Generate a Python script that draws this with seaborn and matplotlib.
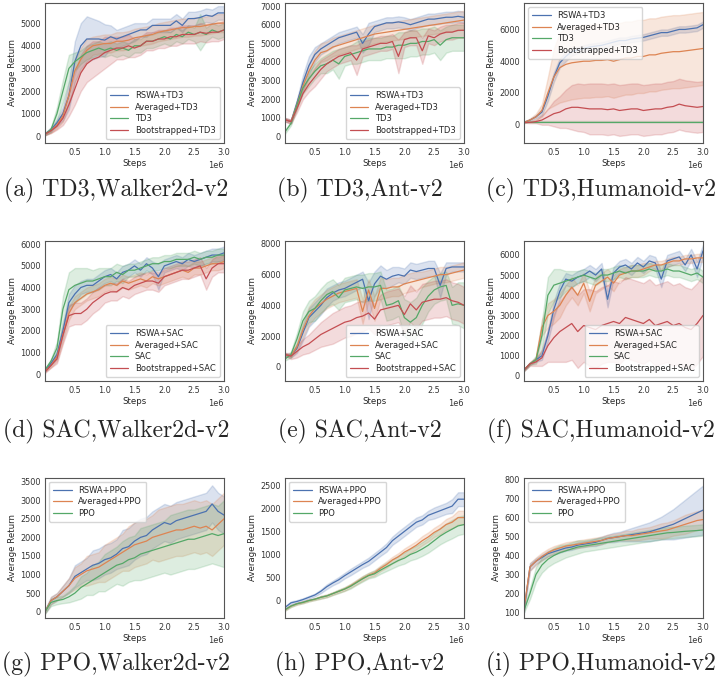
import numpy as np
import pandas as pd
import matplotlib
matplotlib.use("Agg")
import matplotlib.pyplot as plt
import seaborn as sns

# --- x grid (in millions of steps) ---
STEPS = [0.0, 0.1, 0.2, 0.3, 0.4, 0.5, 0.6, 0.7, 0.8, 0.9, 1.0,
         1.1, 1.2, 1.3, 1.4, 1.5, 1.6, 1.7, 1.8, 1.9, 2.0,
         2.1, 2.2, 2.3, 2.4, 2.5, 2.6, 2.7, 2.8, 2.9, 3.0]

# --- (a) TD3, Walker2d ---
a_rswa = [100, 300, 600, 1000, 1800, 3300, 4000, 4300, 4300, 4300, 4250, 4400, 4300, 4400, 4500, 4600,
          4700, 4700, 4900, 4900, 4900, 4900, 5100, 4900, 5200, 5200, 5250, 5350, 5300, 5450, 5450]
a_rswa_w = [50, 100, 150, 300, 600, 900, 1000, 1000, 900, 800, 700, 500, 400, 400, 400, 400,
            300, 300, 300, 300, 300, 300, 300, 300, 300, 300, 300, 300, 300, 300, 300]
a_avg = [100, 250, 500, 900, 1800, 2900, 3400, 3800, 4000, 4050, 4100, 4100, 4200, 4200, 4250, 4350,
         4400, 4450, 4500, 4600, 4650, 4700, 4750, 4800, 4800, 4850, 4850, 4900, 4950, 5000, 5000]
a_avg_w = [50, 100, 150, 250, 400, 500, 500, 500, 400, 400, 400, 400, 400, 400, 400, 400,
           400, 400, 400, 400, 400, 400, 400, 400, 400, 400, 400, 400, 400, 400, 400]
a_td3 = [100, 300, 1000, 2000, 3000, 3300, 3500, 3700, 3800, 3900, 3800, 3900, 3800, 3900, 3800, 4000,
         4000, 4200, 4200, 4300, 4400, 4300, 4500, 4400, 4600, 4500, 4600, 4500, 4700, 4600, 4700]
a_td3_w = [50, 100, 300, 500, 600, 400, 300, 300, 300, 300, 300, 300, 300, 300, 300, 300,
           300, 300, 300, 300, 300, 300, 300, 300, 300, 300, 800, 300, 300, 300, 300]
a_boot = [100, 250, 450, 800, 1400, 2100, 2800, 3200, 3400, 3500, 3700, 3800, 3900, 3900, 4000, 3900,
          4000, 4200, 4200, 4300, 4300, 4400, 4400, 4500, 4500, 4500, 4600, 4550, 4600, 4600, 4700]
a_boot_w = [50, 100, 150, 300, 500, 700, 800, 800, 800, 700, 700, 600, 500, 500, 500, 400,
            400, 400, 400, 400, 400, 400, 400, 400, 400, 400, 400, 400, 400, 400, 400]

# --- (b) TD3, Ant ---
b_rswa = [900, 800, 1800, 2900, 3800, 4400, 4700, 4900, 5100, 5300, 5400, 5500, 5600, 5000, 5500, 5900,
          6000, 6100, 6100, 6150, 6100, 6000, 6100, 6200, 6300, 6300, 6350, 6400, 6400, 6450, 6400]
b_rswa_w = [100, 100, 200, 400, 500, 400, 300, 300, 300, 300, 300, 300, 300, 500, 600, 300,
            300, 300, 300, 300, 300, 300, 300, 300, 300, 300, 300, 300, 300, 300, 300]
b_avg = [900, 800, 1700, 2700, 3500, 4100, 4500, 4600, 4800, 4900, 5000, 5100, 5200, 5300, 5400, 5500,
         5550, 5600, 5650, 5700, 5750, 5800, 5850, 5900, 5950, 6000, 6050, 6100, 6150, 6200, 6250]
b_avg_w = [100, 100, 200, 300, 400, 500, 500, 500, 500, 500, 500, 500, 500, 500, 500, 500,
           500, 500, 500, 500, 500, 500, 500, 500, 500, 500, 500, 500, 500, 500, 500]
b_td3 = [250, 700, 1700, 2600, 3100, 3500, 3800, 3900, 4100, 3900, 4300, 4400, 4500, 4600, 4700, 4700,
         4700, 4800, 4800, 4900, 4900, 5000, 5000, 5100, 5100, 5200, 4900, 5200, 5300, 5300, 5300]
b_td3_w = [100, 100, 200, 300, 400, 400, 400, 500, 500, 800, 500, 500, 600, 600, 600, 600,
           600, 600, 600, 700, 700, 700, 700, 700, 700, 700, 800, 700, 700, 700, 700]
b_boot = [900, 800, 1500, 2300, 2800, 3200, 3600, 3900, 4100, 4300, 4400, 4500, 4100, 4700, 4800, 4900,
          5000, 5000, 5100, 4300, 5200, 5300, 5300, 4600, 5400, 5300, 5500, 5600, 5600, 5700, 5700]
b_boot_w = [100, 100, 200, 300, 400, 500, 500, 400, 400, 400, 400, 400, 800, 400, 400, 400,
            400, 400, 400, 900, 400, 400, 400, 700, 400, 400, 400, 400, 400, 400, 400]

# --- (c) TD3, Humanoid ---
c_rswa = [150, 300, 500, 800, 1800, 3000, 3900, 4300, 4600, 4700, 4800, 4900, 4950, 5000, 5100, 5200,
          5300, 5300, 5400, 5450, 5500, 5600, 5700, 5800, 5800, 5900, 6000, 6000, 6050, 6100, 6300]
c_rswa_w = [50, 50, 100, 200, 300, 300, 300, 300, 250, 200, 200, 200, 200, 200, 200, 200,
            200, 200, 200, 200, 200, 200, 200, 200, 200, 200, 200, 200, 200, 200, 200]
c_avg = [150, 300, 500, 900, 2000, 3000, 3600, 3800, 3900, 3950, 4000, 4000, 4050, 4050, 4100, 4000,
         4100, 4200, 4200, 4300, 4300, 4400, 4400, 4500, 4550, 4600, 4600, 4650, 4700, 4750, 4800]
c_avg_w = [50, 100, 200, 400, 1000, 1800, 2200, 2300, 2300, 2300, 2300, 2300, 2300, 2300, 2300, 2300,
           2300, 2300, 2300, 2300, 2300, 2300, 2300, 2300, 2300, 2300, 2300, 2300, 2300, 2300, 2300]
c_td3 = [200, 200, 200, 200, 200, 200, 200, 200, 200, 200, 200, 200, 200, 200, 200, 200,
         200, 200, 200, 200, 200, 200, 200, 200, 200, 200, 200, 200, 200, 200, 200]
c_td3_w = [20, 20, 20, 20, 20, 20, 20, 20, 20, 20, 20, 20, 20, 20, 20, 20,
           20, 20, 20, 20, 20, 20, 20, 20, 20, 20, 20, 20, 20, 20, 20]
c_boot = [150, 150, 200, 300, 500, 700, 800, 1000, 1100, 1100, 1050, 1000, 1000, 1000, 950, 1000,
          900, 950, 1000, 1000, 900, 950, 1000, 1000, 1100, 1150, 1300, 1200, 1150, 1100, 1150]
c_boot_w = [20, 50, 100, 300, 500, 800, 1000, 1200, 1400, 1500, 1500, 1600, 1600, 1600, 1600, 1600,
            1600, 1600, 1600, 1600, 1600, 1600, 1600, 1600, 1600, 1600, 1600, 1600, 1600, 1600, 1600]

# --- (d) SAC, Walker2d ---
d_rswa = [150, 500, 900, 2000, 3300, 3700, 4000, 4100, 4100, 4300, 4500, 4600, 4400, 4700, 4800, 5000,
          4800, 5100, 4900, 4500, 5000, 5100, 5200, 5100, 5300, 5200, 5300, 5400, 5500, 5500, 5600]
d_rswa_w = [50, 100, 200, 300, 400, 400, 300, 300, 300, 300, 300, 300, 300, 300, 300, 300,
            300, 300, 300, 600, 300, 300, 300, 300, 300, 300, 300, 300, 300, 300, 300]
d_avg = [150, 400, 800, 1800, 2800, 3300, 3500, 3700, 3800, 3900, 4100, 4200, 4100, 4300, 4200, 4300,
         4400, 4300, 4500, 4400, 4500, 4600, 4700, 4800, 4700, 4900, 4900, 5000, 5100, 5100, 5200]
d_avg_w = [50, 100, 200, 300, 300, 300, 300, 300, 300, 300, 300, 300, 300, 300, 300, 300,
           300, 300, 300, 300, 300, 300, 300, 300, 300, 300, 300, 300, 300, 300, 300]
d_sac = [200, 600, 1200, 3000, 3900, 4100, 4200, 4300, 4300, 4400, 4500, 4500, 4700, 4600, 4800, 4800,
         4900, 5000, 5100, 5100, 5200, 5200, 5300, 5300, 5300, 5400, 5300, 5400, 5400, 5500, 5500]
d_sac_w = [50, 100, 300, 600, 800, 800, 700, 600, 500, 500, 400, 400, 400, 400, 300, 300,
           300, 300, 300, 300, 300, 300, 300, 300, 300, 300, 300, 300, 300, 300, 300]
d_boot = [100, 400, 700, 1800, 2700, 2800, 2800, 3000, 3300, 3500, 3700, 3800, 3800, 4000, 3900, 4100,
          4200, 4300, 4300, 4200, 4500, 4600, 4700, 4800, 4800, 4900, 5000, 4400, 4900, 5100, 5100]
d_boot_w = [50, 100, 200, 400, 500, 500, 500, 500, 500, 500, 400, 400, 400, 400, 400, 400,
            400, 400, 400, 400, 400, 400, 400, 400, 400, 400, 400, 500, 400, 400, 400]

# --- (e) SAC, Ant ---
e_rswa = [800, 700, 1200, 2200, 3200, 3600, 4000, 4500, 4800, 5000, 5100, 5300, 5500, 5700, 4300, 5400,
          5900, 5700, 5900, 6000, 5900, 6300, 6200, 6300, 6400, 6400, 5300, 6400, 6500, 6500, 6500]
e_rswa_w = [100, 100, 300, 500, 600, 600, 600, 600, 500, 500, 500, 500, 500, 500, 1200, 800,
            700, 600, 600, 500, 500, 500, 500, 500, 500, 500, 800, 400, 300, 300, 300]
e_avg = [800, 700, 1300, 2400, 3300, 3800, 4100, 4400, 4600, 4800, 4900, 5000, 5100, 3600, 5000, 3800,
         5100, 5100, 5200, 5200, 5400, 5500, 5600, 5700, 5800, 5900, 6000, 6000, 6100, 6200, 6300]
e_avg_w = [100, 100, 300, 500, 600, 600, 600, 600, 600, 600, 600, 600, 600, 800, 700, 800,
           700, 600, 600, 600, 600, 600, 600, 500, 500, 500, 500, 500, 500, 500, 500]
e_sac = [500, 800, 1800, 3000, 3600, 3800, 4300, 4700, 4900, 4500, 5000, 5100, 5200, 5100, 5200, 5200,
         5300, 4000, 4100, 4300, 3200, 2900, 3200, 4000, 4600, 5000, 5200, 5300, 4000, 4100, 4000]
e_sac_w = [100, 200, 400, 600, 700, 800, 800, 800, 800, 800, 800, 800, 800, 900, 900, 900,
           900, 1000, 1000, 1000, 1200, 1300, 1300, 1200, 1000, 900, 900, 900, 1200, 1400, 1500]
e_boot = [800, 700, 1000, 1300, 1500, 1800, 2100, 2300, 2500, 2700, 2900, 3000, 3200, 3300, 3500, 3100,
          3700, 3800, 3900, 4000, 3400, 4100, 3700, 4200, 4300, 4400, 4400, 4500, 4300, 4200, 4000]
e_boot_w = [100, 200, 400, 500, 600, 700, 800, 900, 1000, 1000, 1000, 1000, 1000, 1000, 1000, 1000,
            1000, 1100, 1100, 1100, 1200, 1200, 1200, 1200, 1200, 1200, 1200, 1200, 1200, 1200, 1200]

# --- (f) SAC, Humanoid ---
f_rswa = [300, 600, 800, 1000, 2000, 3300, 4200, 4800, 4700, 4900, 5000, 5200, 5000, 5300, 3800, 5100,
          5400, 5500, 5300, 5600, 5400, 5700, 5600, 4800, 5700, 5800, 5900, 5500, 6000, 5300, 6200]
f_rswa_w = [50, 50, 100, 200, 300, 400, 400, 300, 300, 300, 300, 300, 300, 300, 400, 300,
            300, 300, 300, 300, 300, 300, 300, 400, 300, 300, 300, 300, 300, 400, 300]
f_avg = [300, 600, 800, 2400, 3000, 3200, 3500, 4000, 4400, 4000, 4600, 3700, 4500, 4700, 4900, 4600,
         5000, 5100, 5200, 5200, 5300, 5400, 5500, 5500, 5600, 5700, 5700, 5800, 5800, 5850, 5850]
f_avg_w = [50, 50, 100, 400, 600, 600, 600, 500, 500, 500, 500, 500, 400, 400, 400, 400,
           300, 300, 300, 300, 300, 200, 200, 200, 200, 200, 200, 200, 200, 200, 200]
f_sac = [300, 600, 800, 2000, 4000, 4500, 4600, 4700, 4800, 4900, 5000, 4900, 4800, 5000, 5000, 5100,
         5200, 5100, 5200, 5200, 5200, 5300, 5200, 5200, 5300, 5200, 5200, 5100, 5000, 5100, 4900]
f_sac_w = [50, 50, 200, 700, 900, 800, 700, 500, 400, 300, 300, 300, 300, 300, 300, 300,
           300, 300, 300, 300, 300, 300, 300, 300, 300, 300, 300, 300, 300, 300, 300]
f_boot = [300, 600, 700, 900, 1500, 1900, 2200, 2400, 2600, 2200, 2500, 2400, 2300, 2500, 2600, 2700,
          2600, 2900, 2800, 2700, 2600, 2800, 2500, 2600, 2700, 2500, 2600, 2400, 2300, 2600, 3000]
f_boot_w = [50, 100, 200, 400, 800, 1200, 1500, 1700, 1800, 1800, 1800, 1900, 1900, 1900, 1900, 2000,
            2000, 2000, 2000, 2000, 2000, 2000, 2000, 2000, 2000, 2000, 2000, 2000, 2000, 2000, 2000]

# --- (g) PPO, Walker2d ---
g_rswa = [0, 300, 400, 550, 700, 950, 1050, 1150, 1250, 1300, 1400, 1450, 1550, 1700, 1750, 1900,
          2000, 2050, 2200, 2300, 2400, 2350, 2450, 2500, 2550, 2600, 2650, 2700, 2900, 2700, 2600]
g_rswa_w = [50, 100, 100, 150, 200, 300, 300, 300, 400, 400, 400, 400, 400, 500, 500, 500,
            500, 500, 500, 500, 500, 500, 500, 500, 500, 500, 500, 500, 500, 500, 500]
g_avg = [0, 300, 400, 550, 700, 900, 1000, 1100, 1150, 1200, 1300, 1400, 1500, 1600, 1700, 1800,
         1850, 1900, 2000, 2050, 2100, 2150, 2200, 2200, 2250, 2300, 2250, 2300, 2200, 2350, 2500]
g_avg_w = [50, 100, 100, 150, 200, 300, 300, 400, 400, 400, 500, 500, 500, 500, 600, 600,
           600, 600, 600, 700, 700, 700, 700, 700, 700, 700, 700, 700, 700, 700, 700]
g_ppo = [0, 250, 300, 330, 400, 500, 650, 750, 850, 950, 1050, 1150, 1250, 1300, 1400, 1450,
         1550, 1600, 1650, 1700, 1750, 1800, 1850, 1900, 1950, 1950, 2000, 2050, 2100, 2050, 2100]
g_ppo_w = [50, 100, 100, 100, 150, 200, 300, 300, 400, 400, 500, 500, 500, 600, 600, 600,
           700, 700, 700, 700, 700, 800, 800, 800, 800, 800, 800, 800, 800, 800, 900]

# --- (h) PPO, Ant ---
h_rswa = [-150, -50, -20, 20, 70, 120, 200, 300, 380, 450, 540, 620, 700, 780, 850, 950,
          1050, 1150, 1300, 1400, 1500, 1600, 1700, 1750, 1850, 1900, 1950, 2000, 2050, 2200, 2200]
h_rswa_w = [30, 30, 30, 30, 30, 30, 40, 50, 50, 60, 60, 70, 70, 70, 80, 80,
            80, 90, 90, 100, 100, 100, 100, 100, 100, 120, 120, 120, 150, 150, 150]
h_avg = [-200, -120, -70, -40, 0, 30, 70, 100, 150, 200, 250, 320, 400, 480, 550, 600,
         700, 780, 880, 950, 1050, 1120, 1200, 1300, 1380, 1480, 1550, 1650, 1700, 1800, 1800]
h_avg_w = [20, 20, 20, 20, 20, 20, 30, 30, 30, 30, 40, 40, 50, 50, 50, 60,
           60, 70, 70, 80, 80, 90, 90, 100, 100, 100, 110, 120, 130, 150, 150]
h_ppo = [-200, -120, -70, -40, 0, 30, 70, 100, 150, 200, 250, 310, 390, 470, 540, 580,
         660, 730, 800, 870, 920, 1000, 1050, 1120, 1200, 1300, 1400, 1480, 1550, 1620, 1650]
h_ppo_w = [20, 20, 20, 20, 20, 20, 30, 30, 30, 40, 40, 50, 50, 60, 60, 70,
           80, 90, 100, 110, 120, 130, 140, 150, 160, 170, 180, 190, 200, 200, 200]

# --- (i) PPO, Humanoid ---
i_rswa = [110, 340, 370, 390, 410, 420, 430, 440, 445, 455, 460, 465, 470, 480, 490, 495,
          500, 505, 510, 515, 520, 525, 535, 545, 555, 565, 580, 595, 610, 625, 640]
i_rswa_w = [10, 20, 15, 15, 15, 15, 15, 15, 15, 15, 15, 15, 20, 20, 20, 25,
            25, 30, 35, 40, 45, 50, 55, 60, 70, 80, 90, 100, 110, 120, 130]
i_avg = [120, 340, 370, 395, 415, 430, 440, 450, 455, 460, 465, 470, 475, 480, 490, 495,
         500, 505, 505, 510, 515, 520, 525, 530, 535, 545, 555, 565, 575, 585, 590]
i_avg_w = [10, 20, 20, 20, 20, 20, 20, 20, 20, 20, 20, 20, 20, 20, 20, 20,
           20, 25, 25, 30, 30, 30, 35, 40, 40, 40, 45, 50, 50, 50, 50]
i_ppo = [110, 200, 300, 350, 380, 400, 415, 425, 435, 445, 450, 455, 460, 465, 470, 475,
         480, 485, 490, 495, 500, 505, 510, 515, 520, 522, 525, 528, 530, 532, 535]
i_ppo_w = [10, 30, 40, 40, 40, 40, 40, 35, 35, 35, 30, 30, 30, 30, 30, 30,
           30, 30, 30, 30, 30, 30, 30, 30, 30, 30, 30, 30, 30, 30, 30]

CAPTIONS = ["(a) TD3,Walker2d-v2", "(b) TD3,Ant-v2", "(c) TD3,Humanoid-v2",
            "(d) SAC,Walker2d-v2", "(e) SAC,Ant-v2", "(f) SAC,Humanoid-v2",
            "(g) PPO,Walker2d-v2", "(h) PPO,Ant-v2", "(i) PPO,Humanoid-v2"]

PANELS = [
    ({"RSWA+TD3": (a_rswa, a_rswa_w), "Averaged+TD3": (a_avg, a_avg_w),
      "TD3": (a_td3, a_td3_w), "Bootstrapped+TD3": (a_boot, a_boot_w)},
     (-300, 5900), [0, 1000, 2000, 3000, 4000, 5000], "lower right"),
    ({"RSWA+TD3": (b_rswa, b_rswa_w), "Averaged+TD3": (b_avg, b_avg_w),
      "TD3": (b_td3, b_td3_w), "Bootstrapped+TD3": (b_boot, b_boot_w)},
     (-360, 7180), [0, 1000, 2000, 3000, 4000, 5000, 6000, 7000], "lower right"),
    ({"RSWA+TD3": (c_rswa, c_rswa_w), "Averaged+TD3": (c_avg, c_avg_w),
      "TD3": (c_td3, c_td3_w), "Bootstrapped+TD3": (c_boot, c_boot_w)},
     (-1160, 7680), [0, 2000, 4000, 6000], "upper left"),
    ({"RSWA+SAC": (d_rswa, d_rswa_w), "Averaged+SAC": (d_avg, d_avg_w),
      "SAC": (d_sac, d_sac_w), "Bootstrapped+SAC": (d_boot, d_boot_w)},
     (-320, 6170), [0, 1000, 2000, 3000, 4000, 5000, 6000], "lower right"),
    ({"RSWA+SAC": (e_rswa, e_rswa_w), "Averaged+SAC": (e_avg, e_avg_w),
      "SAC": (e_sac, e_sac_w), "Bootstrapped+SAC": (e_boot, e_boot_w)},
     (-930, 8220), [0, 2000, 4000, 6000, 8000], "lower right"),
    ({"RSWA+SAC": (f_rswa, f_rswa_w), "Averaged+SAC": (f_avg, f_avg_w),
      "SAC": (f_sac, f_sac_w), "Bootstrapped+SAC": (f_boot, f_boot_w)},
     (-250, 6710), [0, 1000, 2000, 3000, 4000, 5000, 6000], "lower right"),
    ({"RSWA+PPO": (g_rswa, g_rswa_w), "Averaged+PPO": (g_avg, g_avg_w),
      "PPO": (g_ppo, g_ppo_w)},
     (-170, 3610), [0, 500, 1000, 1500, 2000, 2500, 3000, 3500], "upper left"),
    ({"RSWA+PPO": (h_rswa, h_rswa_w), "Averaged+PPO": (h_avg, h_avg_w),
      "PPO": (h_ppo, h_ppo_w)},
     (-380, 2670), [0, 500, 1000, 1500, 2000, 2500], "upper left"),
    ({"RSWA+PPO": (i_rswa, i_rswa_w), "Averaged+PPO": (i_avg, i_avg_w),
      "PPO": (i_ppo, i_ppo_w)},
     (70, 812), [100, 200, 300, 400, 500, 600, 700, 800], "upper left"),
]

XTICKS = [0.5e6, 1.0e6, 1.5e6, 2.0e6, 2.5e6, 3.0e6]

sns.set_theme(style="white", palette="deep")
plt.rcParams["font.family"] = ["DejaVu Sans"]

fig = plt.figure(figsize=(7.19, 6.82), dpi=100)

col_left = [0.0626, 0.3964, 0.7288]
row_bottom = [0.790, 0.4413, 0.0938]
ax_w, ax_h = 0.249, 0.206
cap_x = [0.161, 0.500, 0.836]
cap_y = [0.7214, 0.368, 0.025]
colors = sns.color_palette("deep")

for k, (series, ylim, yticks, loc) in enumerate(PANELS):
    r, c = divmod(k, 3)
    ax = fig.add_axes([col_left[c], row_bottom[r], ax_w, ax_h])

    rows = []
    for name, (mean, w) in series.items():
        for s, m, ww in zip(STEPS, mean, w):
            for v in (m - ww, m, m + ww):
                rows.append((s * 1e6, v, name))
    df = pd.DataFrame(rows, columns=["Steps", "Average Return", "method"])

    sns.lineplot(data=df, x="Steps", y="Average Return", hue="method",
                 hue_order=list(series.keys()), palette=colors[:len(series)],
                 estimator="median", errorbar=("pi", 100), linewidth=0.9, ax=ax)

    ax.set_xlim(0, 3.0e6)
    ax.set_ylim(*ylim)
    ax.set_xticks(XTICKS)
    ax.set_yticks(yticks)
    ax.tick_params(axis="both", length=0, labelsize=5.9, colors="#333333")
    ax.tick_params(axis="x", pad=3.5)
    ax.tick_params(axis="y", pad=3)
    ax.xaxis.get_offset_text().set_fontsize(5.9)
    ax.set_xlabel("Steps", fontsize=6.2, labelpad=1.5)
    ax.set_ylabel("Average Return", fontsize=6.2, labelpad=2.5)
    for sp in ax.spines.values():
        sp.set_color("#555555")
        sp.set_linewidth(0.8)
    sns.move_legend(ax, loc, title=None, fontsize=6, labelspacing=0.3,
                    handlelength=2.2, borderpad=0.5, frameon=True)

    fig.text(cap_x[c], cap_y[r], CAPTIONS[k], ha="center", va="center",
             fontsize=17.1, family="cmr10")

fig.savefig("out.png", dpi=100)
